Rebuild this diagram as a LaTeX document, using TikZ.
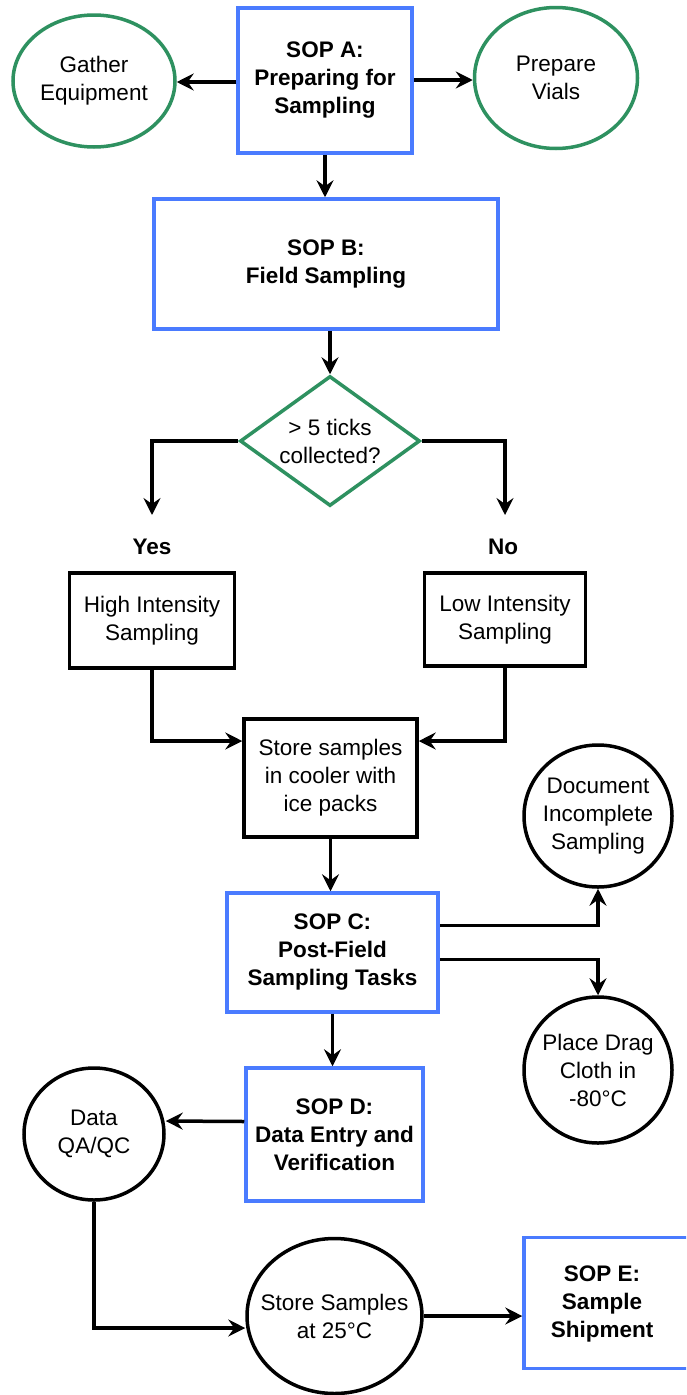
\documentclass[tikz,border=0pt]{standalone}
\usepackage{fontspec}
\setmainfont{Liberation Sans}
\usetikzlibrary{shapes.geometric,arrows.meta}
\definecolor{sopblue}{RGB}{74,123,255}
\definecolor{decgreen}{RGB}{46,145,96}
\begin{document}
\begin{tikzpicture}[x=1pt,y=-1pt,
  every node/.style={font=\fontsize{22.5}{28}\selectfont, align=center, inner sep=0pt},
  sopbox/.style={draw=sopblue, line width=3.5pt, rectangle, font=\fontsize{22.5}{28}\selectfont\bfseries},
  taskbox/.style={draw=black, line width=3.5pt, rectangle},
  greenell/.style={draw=decgreen, line width=3.5pt, ellipse},
  blackell/.style={draw=black, line width=3.5pt, ellipse},
  conn/.style={line width=3.5pt, -{Stealth[length=17pt,width=17pt,inset=6pt]}},
  boldlabel/.style={font=\fontsize{22.5}{28}\selectfont\bfseries}]
\clip (0,0) rectangle (686,1395);
\fill[white] (0,0) rectangle (686,1395);

% top row
\node[sopbox, minimum width=174pt, minimum height=145pt] (sopA) at (325,80.5) {SOP A:\\Preparing for\\Sampling};
\node[greenell, minimum width=162pt, minimum height=132pt] (gath) at (94,81) {};
\node (gatht) at (gath.center) {Gather\\Equipment};
\node[greenell, minimum width=163pt, minimum height=141pt] (vial) at (556,78) {};
\node (vialt) at (vial.center) {Prepare\\Vials};

\node[sopbox, minimum width=344pt, minimum height=130pt] (sopB) at (326,264) {SOP B:\\Field Sampling};

\node[draw=decgreen, line width=3.5pt, diamond, minimum width=180pt, minimum height=130pt] (dec) at (330,441) {};
\node (dectxt) at (dec.center) {> 5 ticks\\collected?};

\node[boldlabel] (yes) at (152,547) {Yes};
\node[boldlabel] (no) at (503,547) {No};
\coordinate (ya) at (152,515);
\coordinate (na) at (505,515);

\node[taskbox, minimum width=165pt, minimum height=95pt] (high) at (152,620.5) {High Intensity\\Sampling};
\node[taskbox, minimum width=161pt, minimum height=93pt] (low) at (505,619.5) {Low Intensity\\Sampling};

\node[taskbox, minimum width=173pt, minimum height=118pt] (store) at (330.5,778) {Store samples\\in cooler with\\ice packs};

\node[sopbox, minimum width=211pt, minimum height=119pt] (sopC) at (332.5,952.5) {SOP C:\\Post-Field\\Sampling Tasks};

\node[blackell, minimum width=148pt, minimum height=142pt] (doc) at (598,816) {};
\node (doct) at (doc.center) {Document\\Incomplete\\Sampling};
\node[blackell, minimum width=148pt, minimum height=146pt] (drag) at (598,1070) {};
\node (dragt) at (drag.center) {Place Drag\\Cloth in\\-80°C};

\node[sopbox, minimum width=177pt, minimum height=133pt] (sopD) at (334.5,1134.5) {SOP D:\\Data Entry and\\Verification};
\node[blackell, minimum width=140pt, minimum height=132pt] (dat) at (94,1134) {};
\node (datt) at (dat.center) {Data\\QA/QC};

\node[blackell, minimum width=175pt, minimum height=155pt] (st25) at (334.5,1316) {};
\node (st25t) at (st25.center) {Store Samples\\at 25°C};
\node[sopbox, minimum width=180pt, minimum height=131pt] (sopE) at (614,1303) {};
\node[boldlabel] (sopEt) at (602,1304) {SOP E:\\Sample\\Shipment};

% connectors
\draw[conn] (sopA.west |- 0,82) -- (gath.east |- 0,82);
\draw[conn] (sopA.east |- 0,80) -- (vial.west |- 0,80);
\draw[conn] (sopA.south) -- (sopB.north -| sopA.south);
\draw[conn] (sopB.south -| dec.north) -- (dec.north);
\draw[conn] (dec.west) -| (ya);
\draw[conn] (dec.east) -| (na);
\draw[conn] (high.south) |- ([yshift=37pt]store.west);
\draw[conn] (low.south) |- ([yshift=37pt]store.east);
\draw[conn] (store.south) -- (sopC.north -| store.south);
\draw[conn] ([yshift=27pt]sopC.east) -| (doc.south);
\draw[conn] ([yshift=-7pt]sopC.east) -| (drag.north);
\draw[conn] (sopC.south) -- (sopD.north -| sopC.south);
\draw[conn] ([yshift=13pt]sopD.west) -- ([yshift=13pt]dat.east);
\draw[conn] (dat.south) |- ([yshift=-12pt]st25.west);
\draw[conn] (st25.east) -- (st25.east -| sopE.west);
\end{tikzpicture}
\end{document}
